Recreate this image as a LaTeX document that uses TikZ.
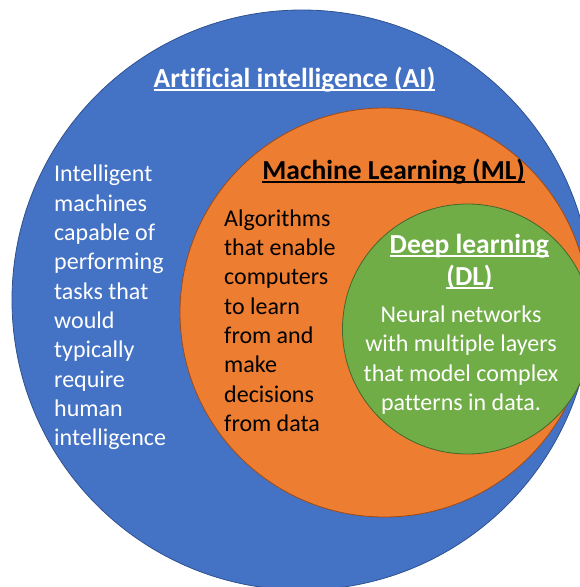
\documentclass[tikz,border=0pt]{standalone}
\usepackage{fontspec}
\setmainfont{Carlito}[Ligatures=NoCommon]
\definecolor{aiblue}{HTML}{4472C4}
\definecolor{aiblueline}{HTML}{2F528F}
\definecolor{mlorange}{HTML}{ED7D31}
\definecolor{mlorangeline}{HTML}{9E4A16}
\definecolor{dlgreen}{HTML}{70AD47}
\definecolor{dlgreenline}{HTML}{43682B}
\newcommand\myul[1]{\setbox0=\hbox{#1}\rlap{\rule[-3.9pt]{\wd0}{2pt}}\box0}
\tikzset{
  disc/.style={circle, inner sep=0pt, line width=0.8pt},
  titletext/.style={anchor=base, inner sep=0pt, font=\fontsize{27.5}{33}\selectfont\bfseries},
  bodytext/.style={inner sep=0pt, font=\fontsize{24}{29.3}\selectfont},
}
\begin{document}
\begin{tikzpicture}[x=1pt,y=-1pt]
\useasboundingbox (0,0) rectangle (580,587);
\clip (0,0) rectangle (580,587);
% circles
\node[disc, draw=aiblueline, fill=aiblue, minimum size=580pt] (ai) at (302,300) {};
\node[disc, draw=mlorangeline, fill=mlorange, minimum size=409pt] (ml) at (384.5,312.5) {};
\node[disc, draw=dlgreenline, fill=dlgreen, minimum size=250pt] (dl) at (467.5,329) {};
% titles
\node[titletext, text=white] (aititle) at (294.5,87) {\myul{Artificial intelligence (AI)}};
\node[titletext, text=black] (mltitle) at (393.7,179.3) {\myul{Machine Learning (ML)}};
\node[titletext, text=white] (dltitleA) at (469.3,253.3) {\myul{Deep learning}};
\node[titletext, text=white] (dltitleB) at (469.5,285) {\myul{(DL)}};
% bodies
\node[bodytext, text=white, anchor=north west, align=left] (aibody) at (54,161.2)
  {\strut Intelligent\\machines\\capable of\\performing\\tasks that\\would\\typically\\require\\human\\intelligence};
\node[bodytext, text=black, anchor=north west, align=left] (mlbody) at (224,205.5)
  {\strut Algorithms\\that enable\\computers\\to learn\\from and\\make\\decisions\\from data};
\node[bodytext, text=white, anchor=north, align=center] (dlbody) at (461,301.8)
  {\strut Neural networks\\with multiple layers\\that model complex\\patterns in data.};
\end{tikzpicture}
\end{document}
